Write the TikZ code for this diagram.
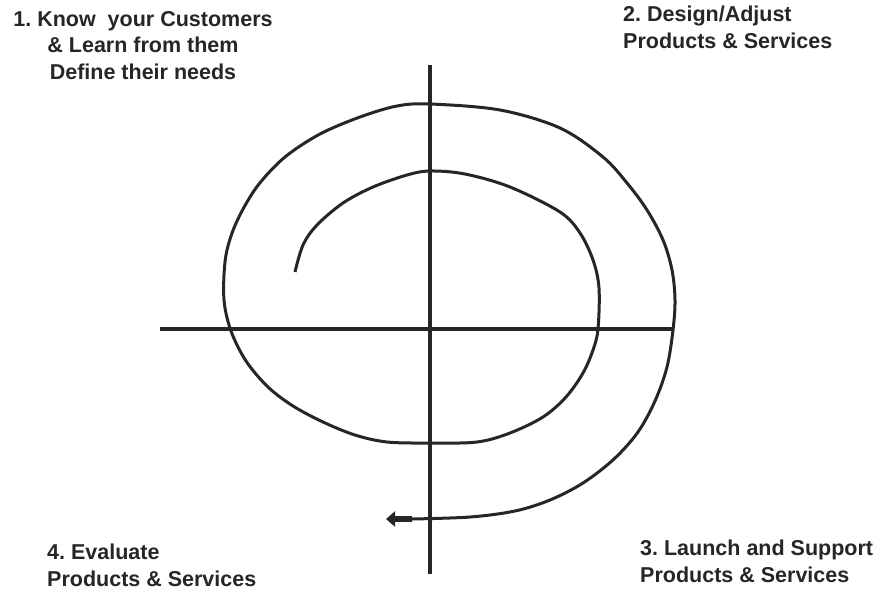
\documentclass[tikz,border=0pt]{standalone}
\usepackage{fontspec}
\setmainfont{Liberation Sans}
\usetikzlibrary{arrows.meta}
\definecolor{ink}{HTML}{262626}
\tikzset{
  axis/.style={draw=ink, line width=3.6pt},
  spiral/.style={draw=ink, line width=3pt, line join=round},
  label/.style={inner sep=0pt, font=\frenchspacing\bfseries\fontsize{21.5}{26.5}\selectfont, text=ink}
}
\begin{document}
\begin{tikzpicture}[x=1pt,y=-1pt]
\useasboundingbox (0,0) rectangle (883,590);
% axes
\coordinate (vtop) at (430,65);
\coordinate (vbot) at (430,574);
\coordinate (hl) at (160,329);
\coordinate (hr) at (674,329);
\draw[axis] (vtop) -- (vbot);
\draw[axis] (hl) -- (hr);
% spiral
\draw[spiral] plot[smooth, tension=0.55] coordinates {
 (295,272) (303,245) (317,225) (343,203) (373,187) (407,175) (430,171) (465,174)
 (510,187) (560,212) (580,233) (593,260) (599,288) (598,329) (593,350) (583,373)
 (566,397) (543,417) (510,433) (477,442) (430,443) (387,442) (355,435) (323,422)
 (293,406) (268,387) (246,361) (231,331) (224,300) (225,262) (231,236) (242,211)
 (259,184) (285,157) (320,134) (360,117) (397,106) (430,104) (500,110)
 (560,128) (603,157) (627,183) (647,210) (663,240) (672,270) (675,300) (673,330)
 (667,367) (655,401) (638,432) (614,459) (583,483) (550,500) (515,511) (470,517)
 (412,519)};
\coordinate (shaft) at (412,519);
\coordinate (tip) at (386,519);
\draw[draw=ink, line width=6.5pt, -{Triangle[length=9pt,width=15pt]}] (shaft) -- (tip);
% labels
\node[label, align=center, anchor=north] (t1) at (143,11) {1. Know\ \ your Customers\\\& Learn from them\\Define their needs};
\node[label, align=left, anchor=north west] (t2) at (623,6) {2. Design/Adjust\\Products \& Services};
\node[label, align=left, anchor=north west] (t3) at (640,540) {3. Launch and Support\\Products \& Services};
\node[label, align=left, anchor=north west] (t4) at (47,544) {4. Evaluate\\Products \& Services};
\end{tikzpicture}
\end{document}
